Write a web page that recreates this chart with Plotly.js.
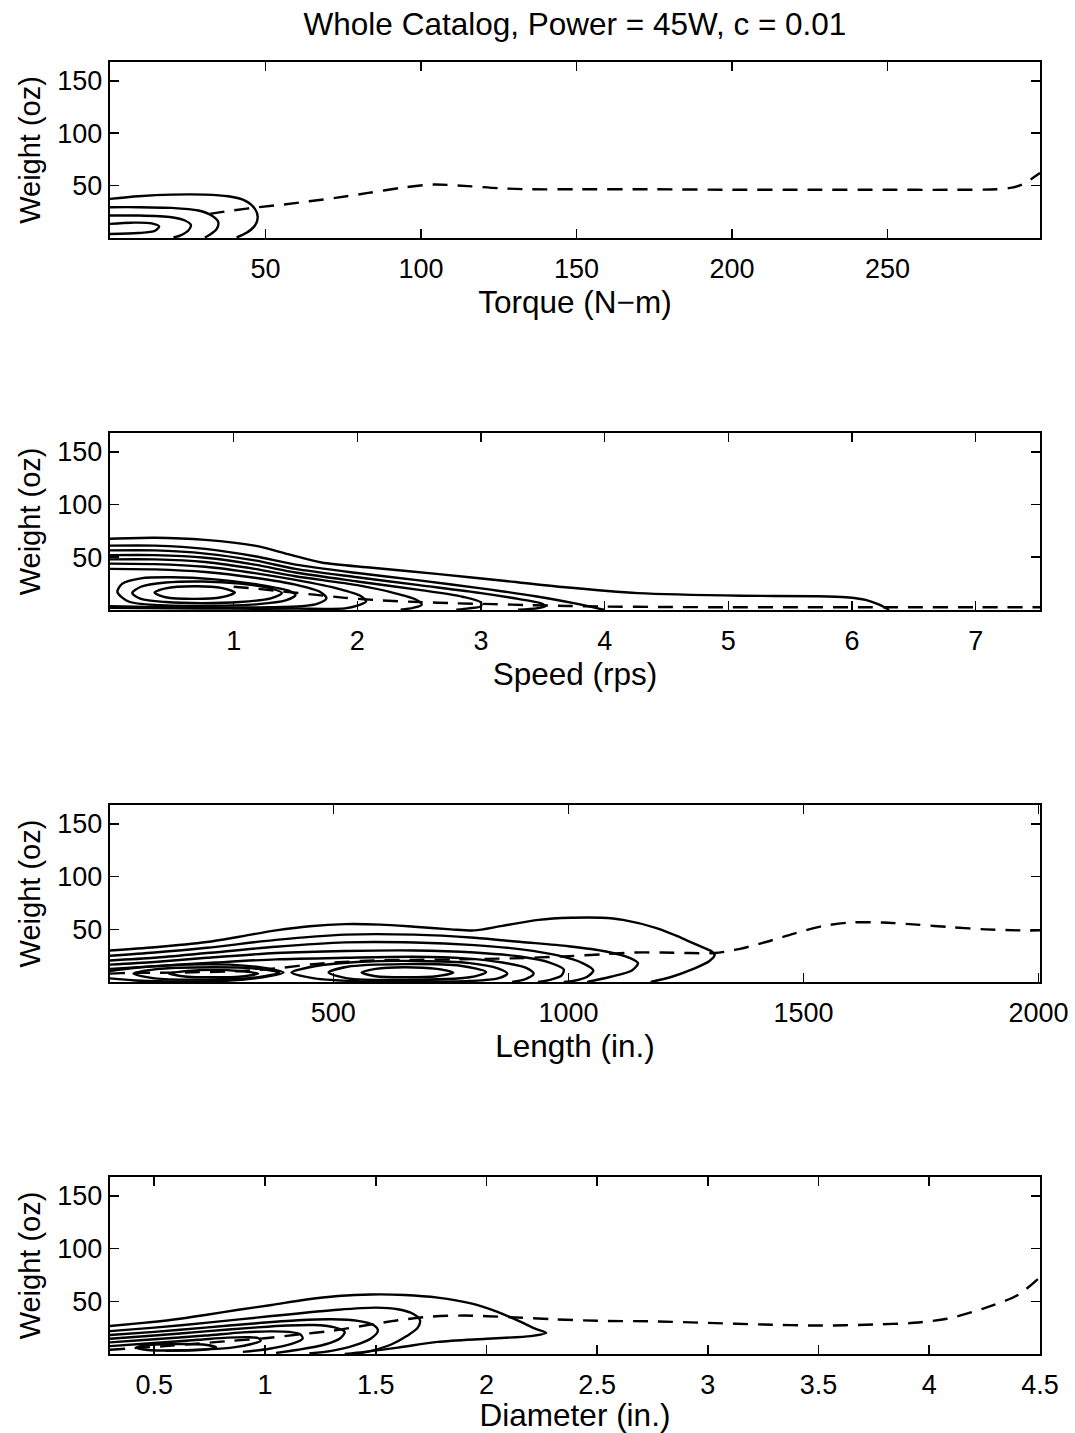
<!DOCTYPE html>
<html>
<head>
<meta charset="utf-8">
<script src="https://cdn.plot.ly/plotly-3.0.1.min.js"></script>
<style>html,body{margin:0;padding:0;background:#fff;}#chart{width:1075px;height:1433px;}</style>
</head>
<body>
<div id="chart"></div>
<script>
// ---------- Panel 1: Torque (N-m) vs Weight (oz) ----------
const torqueTicks = [50, 100, 150, 200, 250];
const torqueC1X = [0, 9.1, 19.8, 30.5, 38, 43.4, 46.6, 47.5, 46.6, 43.9, 40.7];
const torqueC1Y = [37.3, 39.8, 41.4, 41.4, 39.8, 35.7, 27.8, 19.9, 11.9, 4.9, 0.5];
const torqueC2X = [0, 9.1, 19.8, 28.4, 32.7, 34.8, 34.3, 32.2, 30.5];
const torqueC2Y = [29.4, 29.4, 28.7, 26.2, 21.4, 15.1, 8.7, 3.3, 0.5];
const torqueC3X = [0, 9.1, 19.8, 24.1, 26, 25.2, 22.5, 20.4];
const torqueC3Y = [21.4, 21.4, 19.8, 16.7, 12.5, 7.1, 2.3, 0.5];
const torqueC4X = [0, 7, 13.4, 15.8, 14.5, 9.1, 0];
const torqueC4Y = [13.5, 14.6, 14, 11, 6.9, 4.7, 3.8];
const torqueDashX = [32, 40, 48, 56, 64, 73, 83, 94, 104, 115, 125, 135, 150, 175, 200, 225, 250, 270, 285, 290, 294, 297, 299];
const torqueDashY = [23, 26.5, 29.5, 32, 35, 38.5, 43, 48, 51, 49.5, 47.5, 46.5, 46.5, 46.5, 46, 46, 46, 46, 46.5, 48, 52, 58, 62];

// ---------- Panel 2: Speed (rps) ----------
const speedTicks = [1, 2, 3, 4, 5, 6, 7];
const speedC1X = [0, 0.36, 0.77, 1.17, 1.44, 1.71, 2.12, 2.66, 3.2, 3.68, 4.27, 5.11, 5.7, 5.95, 6.11, 6.22, 6.3];
const speedC1Y = [67.5, 68.5, 66.5, 61, 53, 45, 40, 34, 27.5, 21.5, 16, 13.5, 13, 12, 9.5, 5, 0];
const speedC2X = [0, 0.36, 0.77, 1.17, 1.5, 2.0, 2.5, 3.0, 3.44, 3.75, 4.0];
const speedC2Y = [61, 61, 58, 51, 43, 35, 28, 20.5, 13, 6.5, 0];
const speedC3X = [0, 0.36, 0.77, 1.17, 1.5, 2.0, 2.5, 3.0, 3.3, 3.48, 3.52, 3.45, 3.3];
const speedC3Y = [56.5, 56.5, 53.5, 47, 39, 31, 23.5, 16, 10.5, 6.5, 3.5, 1.5, 0.3];
const speedC4X = [0, 0.36, 0.77, 1.17, 1.5, 2.0, 2.5, 2.85, 3.0, 3.0, 2.9, 2.8];
const speedC4Y = [52, 52, 49.5, 43, 35.5, 27, 19, 12.5, 7, 3.5, 1.5, 0.3];
const speedC5X = [0, 0.36, 0.77, 1.17, 1.5, 2.0, 2.3, 2.48, 2.52, 2.45, 2.35];
const speedC5Y = [48, 48, 45.5, 39, 32, 23.5, 16, 9.5, 5, 2, 0.3];
const speedC6X = [0, 0.36, 0.77, 1.17, 1.5, 1.85, 2.03, 2.07, 2.0, 1.9, 1.5, 1.0, 0.5, 0];
const speedC6Y = [44, 43.5, 41, 35, 28.5, 20, 13, 8, 4, 1.5, 1.2, 1.2, 1.5, 2];
const speedC7X = [0, 0.36, 0.77, 1.17, 1.5, 1.7, 1.75, 1.68, 1.55, 1.3, 0.8, 0.3, 0];
const speedC7Y = [39, 38.5, 36, 30.5, 24, 17, 11, 6, 3.5, 2.5, 2.3, 2.8, 3.5];
const speedE3X = [0.06, 0.1, 0.25, 0.5, 0.85, 1.2, 1.45, 1.5, 1.42, 1.2, 0.8, 0.4, 0.15, 0.06];
const speedE3Y = [17, 25, 30, 31, 29, 24, 18, 14, 9, 5.5, 4, 4.5, 8, 17];
const speedE2X = [0.18, 0.25, 0.45, 0.75, 1.05, 1.3, 1.39, 1.3, 1.05, 0.75, 0.45, 0.25, 0.18];
const speedE2Y = [16, 22, 26, 27, 25, 20.5, 16, 11, 7.5, 6.5, 7.5, 10.5, 16];
const speedE1X = [0.36, 0.45, 0.68, 0.9, 1.01, 0.9, 0.68, 0.45, 0.36];
const speedE1Y = [16.5, 20.5, 22.5, 21, 16.5, 12, 10.5, 12, 16.5];
const speedDashX = [1.0, 1.2, 1.4, 1.65, 1.9, 2.2, 2.5, 2.8, 3.1, 3.4, 3.7, 4.0, 4.5, 5.0, 5.5, 6.0, 6.5, 7.0, 7.52];
const speedDashY = [22, 20, 17.5, 14.5, 11.5, 9, 7.5, 6.3, 5.5, 4.5, 3.8, 3.2, 2.8, 2.5, 2.5, 2.5, 2.5, 2.5, 2.5];

// ---------- Panel 3: Length (in.) ----------
const lengthTicks = [500, 1000, 1500, 2000];
const lengthC1X = [25, 120, 231, 300, 378, 450, 525, 600, 672, 750, 800, 856, 936, 1006, 1070, 1116, 1189, 1240, 1280, 1305, 1311, 1300, 1263, 1220, 1175];
const lengthC1Y = [30, 33, 38, 43, 49, 53, 55, 54.5, 52.5, 50, 49, 53, 59, 61, 61, 59, 51, 42, 34, 29, 26, 20, 12, 5, 0];
const lengthC2X = [25, 120, 231, 378, 525, 672, 800, 900, 1000, 1080, 1130, 1148, 1135, 1090, 1040];
const lengthC2Y = [25, 28, 32.5, 40, 45, 45, 42, 38, 34, 29, 23, 18, 11, 5, 0];
const lengthC3X = [25, 120, 231, 378, 525, 672, 800, 900, 980, 1030, 1053, 1040, 1010, 990];
const lengthC3Y = [20.5, 23, 27.5, 33.5, 37.6, 37.5, 35, 31, 25, 18, 11, 5, 1, 0];
const lengthC4X = [25, 120, 231, 378, 525, 672, 800, 900, 960, 990, 985, 960, 935];
const lengthC4Y = [16.5, 19, 23, 27.5, 29.5, 30, 28, 24, 18.5, 12, 6, 2, 0];
const lengthC5X = [25, 120, 250, 378, 525, 672, 780, 860, 910, 926, 910, 880];
const lengthC5Y = [12.5, 15, 18.5, 21.5, 23, 24, 22.5, 18.5, 13.5, 8, 3, 0];
const lengthL3X = [25, 80, 180, 280, 350, 394, 350, 280, 180, 80, 25];
const lengthL3Y = [10.5, 13.5, 16.5, 16.5, 13.5, 9, 4.5, 1.5, 0.5, 1.5, 3.5];
const lengthL2X = [75, 120, 245, 340, 385, 340, 245, 120, 75];
const lengthL2Y = [8, 12, 14, 12.5, 9, 4.5, 2.5, 3.5, 8];
const lengthL1X = [150, 190, 245, 300, 340, 300, 245, 190, 150];
const lengthL1Y = [8, 10.5, 11.5, 10.5, 8, 5, 4.5, 5, 8];
const lengthR3X = [411, 460, 550, 680, 790, 850, 870, 850, 790, 680, 550, 460, 411];
const lengthR3Y = [9, 15, 19, 20, 18, 13, 8, 3.5, 1, 0.3, 0.8, 3.5, 9];
const lengthR2X = [490, 530, 650, 770, 825, 790, 650, 530, 490];
const lengthR2Y = [9, 14.5, 17, 15.5, 9.5, 4.5, 2, 3.5, 9];
const lengthR1X = [560, 590, 650, 720, 755, 720, 650, 590, 560];
const lengthR1Y = [9, 12.5, 14, 12.5, 9, 5.5, 4.5, 5.5, 9];
const lengthDashX = [25, 48, 170, 306, 381, 458, 560, 660, 760, 880, 1000, 1080, 1141, 1200, 1260, 1311, 1365, 1420, 1480, 1540, 1600, 1668, 1741, 1815, 1888, 1961, 2003];
const lengthDashY = [8, 8.5, 9, 10.5, 13, 17, 20, 21, 21.5, 22.5, 24.5, 26.5, 28, 28, 27.5, 27.5, 31.5, 38, 46, 53, 56.5, 56.5, 54.5, 52, 50, 49, 49];

// ---------- Panel 4: Diameter (in.) ----------
const diamTicks = [0.5, 1, 1.5, 2, 2.5, 3, 3.5, 4, 4.5];
const diamC1X = [0.3, 0.45, 0.58, 0.73, 0.88, 1.03, 1.18, 1.33, 1.48, 1.63, 1.78, 1.93, 2.05, 2.15, 2.22, 2.27, 2.2, 2.0, 1.78, 1.6, 1.45, 1.36];
const diamC1Y = [26.5, 29.5, 32.5, 37, 42, 46.5, 51.5, 55, 56.5, 56, 53.5, 48, 40, 31, 24, 20, 17, 14.5, 11.5, 6, 2, 0];
const diamC2X = [0.3, 0.5, 0.73, 1.03, 1.33, 1.5, 1.6, 1.67, 1.7, 1.69, 1.64, 1.57, 1.48, 1.42];
const diamC2Y = [21.7, 25, 29.5, 36, 42, 44, 42.5, 38, 32, 25, 17, 9, 3, 0.5];
const diamC3X = [0.3, 0.5, 0.73, 0.95, 1.15, 1.3, 1.42, 1.49, 1.51, 1.48, 1.4, 1.3, 1.2];
const diamC3Y = [18, 21, 25, 29, 32, 33, 31.5, 27.5, 22, 15, 8, 3, 0.5];
const diamC4X = [0.3, 0.5, 0.73, 0.95, 1.1, 1.22, 1.31, 1.36, 1.34, 1.27, 1.15, 1.05];
const diamC4Y = [14.5, 17.5, 21.5, 25, 27, 27.5, 25.5, 21, 15, 9, 4, 1];
const diamC5X = [0.3, 0.5, 0.73, 0.9, 1.02, 1.11, 1.16, 1.17, 1.12, 1.02, 0.9];
const diamC5Y = [11, 14, 17.5, 20.5, 21.5, 21, 18.5, 14.5, 9.5, 5, 2];
const diamC6X = [0.3, 0.5, 0.7, 0.83, 0.92, 0.97, 0.98, 0.94, 0.85, 0.7, 0.55];
const diamC6Y = [7.5, 10.5, 13.5, 15.5, 16, 15, 12.5, 9.5, 6, 4, 3];
const diamE1X = [0.42, 0.47, 0.6, 0.72, 0.78, 0.72, 0.6, 0.47, 0.42];
const diamE1Y = [6, 8.5, 9.5, 9, 6.5, 4, 3.3, 3.8, 6];
const diamDashX = [0.3, 0.4, 0.55, 0.7, 0.85, 1.0, 1.15, 1.3, 1.45, 1.6, 1.75, 1.9, 2.1, 2.3, 2.5, 2.75, 3.0, 3.25, 3.5, 3.75, 3.93, 4.08, 4.24, 4.4, 4.5];
const diamDashY = [4, 5.5, 7.5, 10, 12.5, 15, 18.5, 22, 27, 32, 35.5, 36.5, 35, 33, 31.5, 31, 29.5, 28, 27, 28, 29.6, 33.5, 42.8, 56, 73];

const weightTicks = [50, 100, 150];

// ---------- build ----------
const FONT = 'Liberation Sans, Arial, Helvetica, sans-serif';
function line(xs, ys, n, dashed) {
  return {
    type: 'scatter', mode: 'lines', x: xs, y: ys,
    xaxis: 'x' + (n === 1 ? '' : n), yaxis: 'y' + (n === 1 ? '' : n),
    line: {color: '#000', width: 2.4, shape: 'spline', smoothing: 0.8, dash: dashed ? '15px,10px' : 'solid'},
    hoverinfo: 'skip', showlegend: false
  };
}
const traces = [
  line(torqueC1X, torqueC1Y, 1), line(torqueC2X, torqueC2Y, 1), line(torqueC3X, torqueC3Y, 1), line(torqueC4X, torqueC4Y, 1),
  line(torqueDashX, torqueDashY, 1, true),
  line(speedC1X, speedC1Y, 2), line(speedC2X, speedC2Y, 2), line(speedC3X, speedC3Y, 2), line(speedC4X, speedC4Y, 2),
  line(speedC5X, speedC5Y, 2), line(speedC6X, speedC6Y, 2), line(speedC7X, speedC7Y, 2),
  line(speedE3X, speedE3Y, 2), line(speedE2X, speedE2Y, 2), line(speedE1X, speedE1Y, 2),
  line(speedDashX, speedDashY, 2, true),
  line(lengthC1X, lengthC1Y, 3), line(lengthC2X, lengthC2Y, 3), line(lengthC3X, lengthC3Y, 3), line(lengthC4X, lengthC4Y, 3),
  line(lengthC5X, lengthC5Y, 3), line(lengthL3X, lengthL3Y, 3), line(lengthL2X, lengthL2Y, 3), line(lengthL1X, lengthL1Y, 3),
  line(lengthR3X, lengthR3Y, 3), line(lengthR2X, lengthR2Y, 3), line(lengthR1X, lengthR1Y, 3),
  line(lengthDashX, lengthDashY, 3, true),
  line(diamC1X, diamC1Y, 4), line(diamC2X, diamC2Y, 4), line(diamC3X, diamC3Y, 4), line(diamC4X, diamC4Y, 4),
  line(diamC5X, diamC5Y, 4), line(diamC6X, diamC6Y, 4), line(diamE1X, diamE1Y, 4),
  line(diamDashX, diamDashY, 4, true)
];

function xax(range, ticks, title, anchor) {
  return {
    range: range, tickvals: ticks, ticktext: ticks.map(String), anchor: anchor,
    ticks: 'inside', ticklen: 9, tickwidth: 1.6, tickcolor: '#000', mirror: 'allticks',
    showline: true, linewidth: 2.4, linecolor: '#000', showgrid: false, zeroline: false,
    tickfont: {family: FONT, size: 27, color: '#000'}, ticklabelstandoff: 5,
    title: {text: title, font: {family: FONT, size: 31.5, color: '#000'}, standoff: 5},
    fixedrange: true
  };
}
function yax(domain, anchor) {
  return {
    domain: domain, range: [0, 168], tickvals: weightTicks, anchor: anchor,
    ticks: 'inside', ticklen: 9, tickwidth: 1.6, tickcolor: '#000', mirror: 'allticks',
    showline: true, linewidth: 2.4, linecolor: '#000', showgrid: false, zeroline: false,
    tickfont: {family: FONT, size: 27, color: '#000'}, ticklabelstandoff: 0,
    title: {text: 'Weight (oz)', font: {family: FONT, size: 29, color: '#000'}, standoff: 8},
    fixedrange: true
  };
}

const layout = {
  width: 1075, height: 1433,
  margin: {l: 110, r: 35, t: 62, b: 79},
  paper_bgcolor: '#fff', plot_bgcolor: '#fff',
  showlegend: false,
  title: {text: 'Whole Catalog, Power = 45W, c = 0.01', font: {family: FONT, size: 31.5, color: '#000'},
          xref: 'paper', x: 0.5, xanchor: 'center', yref: 'container', y: 1 - 24/1433, yanchor: 'middle'},
  xaxis: xax([0, 299], torqueTicks, 'Torque (N\u2212m)', 'y'),
  yaxis: yax([0.8638, 1], 'x'),
  xaxis2: xax([0, 7.52], speedTicks, 'Speed (rps)', 'y2'),
  yaxis2: yax([0.5759, 0.7129], 'x2'),
  xaxis3: xax([25, 2003], lengthTicks, 'Length (in.)', 'y3'),
  yaxis3: yax([0.2879, 0.4249], 'x3'),
  xaxis4: xax([0.3, 4.5], diamTicks, 'Diameter (in.)', 'y4'),
  yaxis4: yax([0, 0.1370], 'x4')
};

Plotly.newPlot('chart', traces, layout, {staticPlot: true, displayModeBar: false});
</script>
</body>
</html>
